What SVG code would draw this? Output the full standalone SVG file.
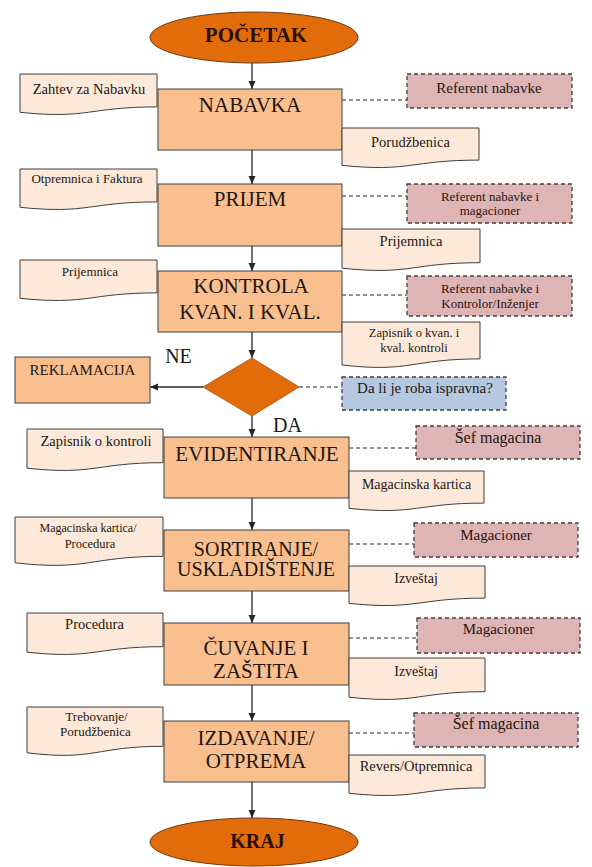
<svg xmlns="http://www.w3.org/2000/svg" width="592" height="867" viewBox="0 0 592 867">
<style>
.box{fill:#f9bf8f;stroke:#3f3f3f;stroke-width:1}
.doc{fill:#fde9d9;stroke:#3f3f3f;stroke-width:1}
.term{fill:#e36c0a;stroke:#6b3a10;stroke-width:1}
.role{fill:#dfb4b4;stroke:#3f3f3f;stroke-width:1.3;stroke-dasharray:4 3}
.q{fill:#b4c8e2;stroke:#3f3f3f;stroke-width:1.3;stroke-dasharray:4 3}
.arr{fill:none;stroke:#262626;stroke-width:1.3;marker-end:url(#ah)}
.dash{fill:none;stroke:#262626;stroke-width:1;stroke-dasharray:4 3}
text{font-family:'Liberation Serif','Times New Roman',serif;fill:#1f1610;text-anchor:middle}
.big{font-size:21px}
.mid{font-size:20px}
.t15{font-size:15px}
.t14{font-size:14.5px}
.t13{font-size:13px}
.t12{font-size:12.5px}
.bold{font-weight:bold;font-size:21px;fill:#2a0f00}
</style>
<defs>
<marker id="ah" markerUnits="userSpaceOnUse" markerWidth="8" markerHeight="8" refX="8" refY="4" orient="auto">
<path d="M0,0.5 L8,4 L0,7.5 z" fill="#262626"/>
</marker>
</defs>

<g id="connectors">
<line class="arr" x1="252" y1="63" x2="252" y2="89"/>
<line class="arr" x1="252" y1="150" x2="252" y2="184"/>
<line class="arr" x1="252" y1="246" x2="252" y2="271"/>
<line class="arr" x1="252" y1="332" x2="252" y2="358"/>
<line class="arr" x1="252" y1="416" x2="252" y2="437"/>
<line class="arr" x1="252" y1="498" x2="252" y2="530"/>
<line class="arr" x1="252" y1="591" x2="252" y2="623"/>
<line class="arr" x1="252" y1="685" x2="252" y2="721"/>
<line class="arr" x1="252" y1="782" x2="252" y2="818"/>
<line class="arr" x1="203" y1="387" x2="150" y2="387"/>
<line class="dash" x1="342" y1="100" x2="407" y2="100"/>
<line class="dash" x1="342" y1="196" x2="407" y2="196"/>
<line class="dash" x1="342" y1="295" x2="407" y2="295"/>
<line class="dash" x1="299" y1="387" x2="342" y2="387"/>
<line class="dash" x1="349" y1="448" x2="416" y2="448"/>
<line class="dash" x1="349" y1="544" x2="414" y2="544"/>
<line class="dash" x1="349" y1="638" x2="417" y2="638"/>
<line class="dash" x1="349" y1="733" x2="414" y2="733"/>
</g>

<g id="pocetak">
<ellipse class="term" cx="254" cy="37.5" rx="104" ry="25.5"/>
<text class="bold" x="256" y="42">POČETAK</text>
</g>

<g id="doc-zahtev">
<path class="doc" d="M20,74 H157 V106.9 C88.5,106.9 88.5,119.4 20,112.3 Z"/>
<text class="t14" x="89" y="94">Zahtev za Nabavku</text>
</g>
<g id="nabavka">
<rect class="box" x="158" y="89" width="184" height="61"/>
<text class="big" x="250" y="112">NABAVKA</text>
</g>
<g id="role-nabavka">
<rect class="role" x="407" y="74" width="165" height="34"/>
<text class="t15" x="489" y="93">Referent nabavke</text>
</g>
<g id="doc-porudzbenica">
<path class="doc" d="M342,128 H479 V160.1 C410.5,160.1 410.5,172.3 342,165.4 Z"/>
<text class="t14" x="410.5" y="146.5">Porudžbenica</text>
</g>

<g id="doc-otpremnica">
<path class="doc" d="M20,169 H157 V201.9 C88.5,201.9 88.5,214.4 20,207.3 Z"/>
<text class="t13" x="87" y="183">Otpremnica i Faktura</text>
</g>
<g id="prijem">
<rect class="box" x="158" y="184" width="184" height="62"/>
<text class="big" x="250" y="206">PRIJEM</text>
</g>
<g id="role-prijem">
<rect class="role" x="407" y="184" width="165" height="39"/>
<text class="t13" x="490" y="201">Referent nabavke i</text>
<text class="t13" x="490" y="215">magacioner</text>
</g>
<g id="doc-prijemnica-r">
<path class="doc" d="M342,229 H480 V262.7 C411,262.7 411,275.5 342,268.2 Z"/>
<text class="t14" x="411" y="246">Prijemnica</text>
</g>

<g id="doc-prijemnica-l">
<path class="doc" d="M20,260 H157 V292.9 C88.5,292.9 88.5,305.4 20,298.3 Z"/>
<text class="t13" x="90" y="276">Prijemnica</text>
</g>
<g id="kontrola">
<rect class="box" x="158" y="271" width="184" height="61"/>
<text class="big" x="251" y="293">KONTROLA</text>
<text class="big" x="250" y="319">KVAN. I KVAL.</text>
</g>
<g id="role-kontrola">
<rect class="role" x="407" y="276" width="165" height="40"/>
<text class="t13" x="490" y="293">Referent nabavke i</text>
<text class="t13" x="490" y="307.5">Kontrolor/Inženjer</text>
</g>
<g id="doc-zapisnik-kvan">
<path class="doc" d="M342,322 H480 V358.9 C411,358.9 411,372.9 342,365 Z"/>
<text class="t12" x="414" y="337">Zapisnik o kvan. i</text>
<text class="t12" x="414" y="352">kval. kontroli</text>
</g>

<g id="odluka">
<polygon points="252,358 299,387 252,416 203,387" fill="#e36c0a" stroke="#b0601a" stroke-width="1"/>
</g>
<g id="label-ne">
<text class="mid" x="178.5" y="363">NE</text>
</g>
<g id="label-da">
<text class="mid" x="287.5" y="432">DA</text>
</g>
<g id="reklamacija">
<rect class="box" x="15" y="357" width="135" height="46"/>
<text class="t15" x="82.5" y="375">REKLAMACIJA</text>
</g>
<g id="pitanje">
<rect class="q" x="342" y="377" width="164" height="33"/>
<text class="t15" x="425" y="393">Da li je roba ispravna?</text>
</g>

<g id="doc-zapisnik-kontrola">
<path class="doc" d="M27,429 H163 V462.7 C95,462.7 95,475.5 27,468.2 Z"/>
<text class="t14" x="96" y="446">Zapisnik o kontroli</text>
</g>
<g id="evidentiranje">
<rect class="box" x="164" y="437" width="185" height="61"/>
<text class="big" x="257" y="461">EVIDENTIRANJE</text>
</g>
<g id="role-evidentiranje">
<rect class="role" x="416" y="426" width="164" height="33"/>
<text style="font-size:16px" x="498" y="442.5">Šef magacina</text>
</g>
<g id="doc-magacinska">
<path class="doc" d="M349,471 H484 V503.1 C416.5,503.1 416.5,515.3 349,508.4 Z"/>
<text style="font-size:14px" x="416.5" y="489">Magacinska kartica</text>
</g>

<g id="doc-magacinska-procedura">
<path class="doc" d="M15,517 H163 V556.3 C89,556.3 89,571.2 15,562.8 Z"/>
<text style="font-size:12px" x="88" y="532">Magacinska kartica/</text>
<text style="font-size:12.5px" x="90" y="548">Procedura</text>
</g>
<g id="sortiranje">
<rect class="box" x="164" y="530" width="185" height="61"/>
<text class="mid" x="256" y="556">SORTIRANJE/</text>
<text class="mid" x="256" y="576">USKLADIŠTENJE</text>
</g>
<g id="role-sortiranje">
<rect class="role" x="414" y="523" width="164" height="34"/>
<text class="t15" x="496" y="540">Magacioner</text>
</g>
<g id="doc-izvestaj-1">
<path class="doc" d="M349,566 H485 V598.1 C417,598.1 417,610.3 349,603.4 Z"/>
<text style="font-size:14px" x="416" y="583">Izveštaj</text>
</g>

<g id="doc-procedura">
<path class="doc" d="M27,613 H163 V646.7 C95,646.7 95,659.5 27,652.2 Z"/>
<text class="t14" x="94.5" y="629">Procedura</text>
</g>
<g id="cuvanje">
<rect class="box" x="164" y="623" width="185" height="62"/>
<text class="big" x="256" y="655">ČUVANJE I</text>
<text class="big" x="256" y="678">ZAŠTITA</text>
</g>
<g id="role-cuvanje">
<rect class="role" x="417" y="618" width="163" height="35"/>
<text class="t15" x="498.5" y="634">Magacioner</text>
</g>
<g id="doc-izvestaj-2">
<path class="doc" d="M349,658 H485 V691.7 C417,691.7 417,704.5 349,697.2 Z"/>
<text style="font-size:14px" x="416" y="676">Izveštaj</text>
</g>

<g id="doc-trebovanje">
<path class="doc" d="M27,707 H163 V746.3 C95,746.3 95,761.2 27,752.8 Z"/>
<text class="t13" x="96.5" y="721">Trebovanje/</text>
<text class="t13" x="95.5" y="736">Porudžbenica</text>
</g>
<g id="izdavanje">
<rect class="box" x="164" y="721" width="185" height="61"/>
<text class="big" x="256" y="745">IZDAVANJE/</text>
<text class="big" x="256" y="768">OTPREMA</text>
</g>
<g id="role-izdavanje">
<rect class="role" x="414" y="713" width="164" height="34"/>
<text style="font-size:16px" x="496" y="729">Šef magacina</text>
</g>
<g id="doc-revers">
<path class="doc" d="M349,755 H485 V787.9 C417,787.9 417,800.4 349,793.3 Z"/>
<text class="t14" x="416" y="771">Revers/Otpremnica</text>
</g>

<g id="kraj">
<ellipse class="term" cx="254" cy="842" rx="104" ry="24"/>
<text class="bold" x="257.5" y="848" style="font-size:20px">KRAJ</text>
</g>
</svg>
